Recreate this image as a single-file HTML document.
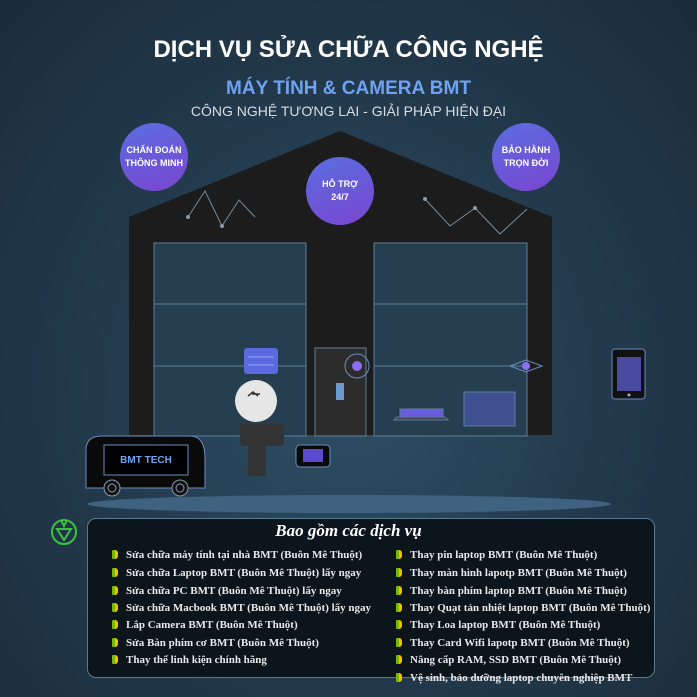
<!DOCTYPE html><html><head><meta charset="utf-8"><style>
body{margin:0;width:697px;height:697px;overflow:hidden;background:radial-gradient(ellipse at 50% 55%,#2f4f66 0%,#22394b 55%,#1a2c3a 100%);font-family:"Liberation Sans",sans-serif;position:relative}
.t{position:absolute;left:0;width:697px;text-align:center}
.c{position:absolute;border-radius:50%;background:linear-gradient(160deg,#5a6ee0,#7a45d0);color:#fff;font-size:9px;font-weight:bold;display:flex;align-items:center;justify-content:center;text-align:center;line-height:13px}
.box{position:absolute;left:87px;top:518px;width:566px;height:158px;border:1.5px solid #5a7a90;border-radius:9px;background:#0b151b}
.li{position:absolute;font-family:"Liberation Serif",serif;font-weight:bold;font-size:11px;color:#e8e8e8;white-space:nowrap}
.li:before{content:"";display:inline-block;width:6px;height:9px;background:linear-gradient(90deg,#7ab800 50%,#f0c000 50%);margin-right:8px;border-radius:1px 3px 3px 1px;vertical-align:-1px}
</style></head><body>
<div class="t" style="top:36px;font-size:24px;font-weight:bold;color:#fff">DỊCH VỤ SỬA CHỮA CÔNG NGHỆ</div>
<div class="t" style="top:78px;font-size:19px;font-weight:bold;color:#6fa2f2">MÁY TÍNH &amp; CAMERA BMT</div>
<div class="t" style="top:103px;font-size:14px;color:#d8dde2">CÔNG NGHỆ TƯƠNG LAI - GIẢI PHÁP HIỆN ĐẠI</div>
<svg width="697" height="697" style="position:absolute;left:0;top:0">
<ellipse cx="349" cy="504" rx="262" ry="9" fill="#3f6280"/>
<polygon points="129,217 340,131 552,217 552,435 129,435" fill="#1c1c1c"/>
<g fill="#253f50" stroke="#5a7f99" stroke-width="1">
<rect x="154" y="243" width="152" height="193"/><rect x="374" y="243" width="153" height="193"/></g>
<g stroke="#5a7f99"><line x1="154" y1="304" x2="306" y2="304"/><line x1="154" y1="366" x2="306" y2="366"/><line x1="374" y1="304" x2="527" y2="304"/><line x1="374" y1="366" x2="527" y2="366"/></g>
<rect x="315" y="348" width="51" height="88" fill="#2c2c2c" stroke="#5a7f99"/>
<rect x="336" y="383" width="8" height="17" fill="#6a9ad0"/>
<circle cx="357" cy="366" r="12" fill="none" stroke="#6a8cc0"/><circle cx="357" cy="366" r="5" fill="#8a70f0"/>
<path d="M510 366 L526 360 L542 366 L526 372Z" fill="none" stroke="#6a8cc0"/><circle cx="526" cy="366" r="4" fill="#8a70f0"/>
<g stroke="#7a8a9a" fill="none"><polyline points="188,217 205,191 222,226 239,200 255,217"/><polyline points="425,199 450,226 475,208 500,234 527,209"/></g>
<g fill="#8a9aaa"><circle cx="188" cy="217" r="2"/><circle cx="222" cy="226" r="2"/><circle cx="425" cy="199" r="2"/><circle cx="475" cy="208" r="2"/></g>
<rect x="400" y="409" width="43" height="8" fill="#6a5ae0" stroke="#5a7f99"/><polygon points="394,420 448,420 445,417 397,417" fill="#445" stroke="#5a7f99"/>
<rect x="464" y="392" width="51" height="34" fill="#3e5090" stroke="#5a7f99"/>
<rect x="244" y="348" width="34" height="26" rx="3" fill="#5a6ae0"/>
<g stroke="#9aa8f0"><line x1="248" y1="357" x2="274" y2="357"/><line x1="248" y1="365" x2="274" y2="365"/></g>
<path d="M246 432 h20 v-8 h8 v16 h-8 v36 h-18 v-36 h-8 v-16 h6z" fill="#333"/>
<rect x="240" y="424" width="44" height="22" rx="4" fill="#333"/>
<circle cx="256" cy="401" r="21" fill="#e6e6e6"/><path d="M248 396 l5-4 l5 4 M252 394 h8" stroke="#333" fill="none" stroke-width="1.5"/>
<rect x="296" y="445" width="34" height="22" rx="4" fill="#0a0a0a" stroke="#6a8cc0"/><rect x="303" y="449" width="20" height="13" fill="#5a4ad0"/>
<rect x="612" y="349" width="33" height="50" rx="3" fill="#111" stroke="#6a8cc0"/><rect x="617" y="357" width="24" height="34" fill="#4a4aa0"/><circle cx="629" cy="395" r="1.5" fill="#aaa"/>
<path d="M86 488 V450 Q86 436 102 436 H190 Q205 436 205 458 V488Z" fill="#0a0a0a" stroke="#6a8cc0"/>
<rect x="104" y="445" width="84" height="30" fill="#000" stroke="#6a8cc0"/>
<text x="146" y="463" text-anchor="middle" font-family="Liberation Sans" font-weight="bold" font-size="10" fill="#6fa2f2">BMT TECH</text>
<circle cx="112" cy="488" r="8" fill="#111" stroke="#8a9aaa"/><circle cx="112" cy="488" r="4" fill="none" stroke="#8a9aaa"/>
<circle cx="180" cy="488" r="8" fill="#111" stroke="#8a9aaa"/><circle cx="180" cy="488" r="4" fill="none" stroke="#8a9aaa"/>
<g transform="translate(64,532)" fill="none" stroke="#3ec040" stroke-width="2"><circle r="12"/><path d="M-7 -3 L0 8 L7 -3 Z M-3 -12 L0 -6 L3 -12"/></g>
</svg>
<div class="c" style="left:120px;top:123px;width:68px;height:68px">CHẨN ĐOÁN<br>THÔNG MINH</div>
<div class="c" style="left:306px;top:157px;width:68px;height:68px">HỖ TRỢ<br>24/7</div>
<div class="c" style="left:492px;top:123px;width:68px;height:68px">BẢO HÀNH<br>TRỌN ĐỜI</div>
<div class="box"></div>
<div class="t" style="top:521px;font-family:'Liberation Serif',serif;font-weight:bold;font-style:italic;font-size:17px;color:#fff">Bao gồm các dịch vụ</div>
<div class="li" style="left:112px;top:549px">Sửa chữa máy tính tại nhà BMT (Buôn Mê Thuột)</div>
<div class="li" style="left:112px;top:567px">Sửa chữa Laptop BMT (Buôn Mê Thuột) lấy ngay</div>
<div class="li" style="left:112px;top:585px">Sửa chữa PC BMT (Buôn Mê Thuột) lấy ngay</div>
<div class="li" style="left:112px;top:602px">Sửa chữa Macbook BMT (Buôn Mê Thuột) lấy ngay</div>
<div class="li" style="left:112px;top:619px">Lắp Camera BMT (Buôn Mê Thuột)</div>
<div class="li" style="left:112px;top:637px">Sửa Bàn phím cơ BMT (Buôn Mê Thuột)</div>
<div class="li" style="left:112px;top:654px">Thay thế linh kiện chính hãng</div>
<div class="li" style="left:396px;top:549px">Thay pin laptop BMT (Buôn Mê Thuột)</div>
<div class="li" style="left:396px;top:567px">Thay màn hình lapotp BMT (Buôn Mê Thuột)</div>
<div class="li" style="left:396px;top:585px">Thay bàn phím laptop BMT (Buôn Mê Thuột)</div>
<div class="li" style="left:396px;top:602px">Thay Quạt tản nhiệt laptop BMT (Buôn Mê Thuột)</div>
<div class="li" style="left:396px;top:619px">Thay Loa laptop BMT (Buôn Mê Thuột)</div>
<div class="li" style="left:396px;top:637px">Thay Card Wifi lapotp BMT (Buôn Mê Thuột)</div>
<div class="li" style="left:396px;top:654px">Nâng cấp RAM, SSD BMT (Buôn Mê Thuột)</div>
<div class="li" style="left:396px;top:672px">Vệ sinh, bảo dưỡng laptop chuyên nghiệp BMT</div>
</body></html>
